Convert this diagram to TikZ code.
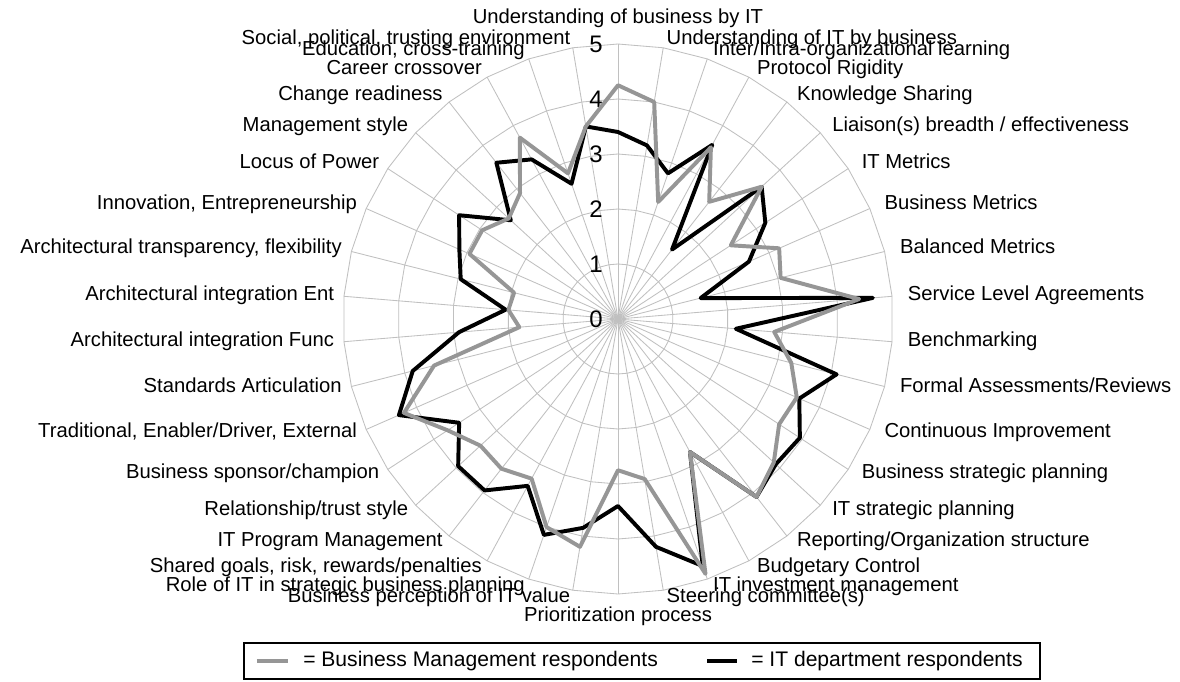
\documentclass[tikz,border=0pt]{standalone}
\usepackage{fontspec}
\setmainfont{Liberation Sans}
\usetikzlibrary{positioning}

\definecolor{gridgray}{RGB}{192,192,192}
\definecolor{bizgray}{RGB}{150,150,150}

\tikzset{
    gridline/.style = {gridgray, line width = 0.6pt},
    bizline/.style = {bizgray, line width = 2.8pt, line join = round},
    itline/.style = {black, line width = 2.8pt, line join = round},
    axislabel/.style = {font = \fontsize{14.4}{16}\selectfont, inner sep = 0.5pt,
        text height = 1.6ex, text depth = 0.4ex},
    ticklabel/.style = {font = \fontsize{17}{19}\selectfont, inner sep = 0pt},
    legendtext/.style = {font = \fontsize{15}{17}\selectfont, inner sep = 0pt, anchor = west}
}

\begin{document}
\begin{tikzpicture}
    \useasboundingbox [fill = white] (-15.45,-9.05) rectangle (14.05,7.975);

    % grid: spokes and rings
    \foreach \k in {0,...,37}
        \draw [gridline] (0,0) -- ({90-\k*360/38}:6.875);
    \foreach \r in {1,...,5}
        \draw [gridline] (90:{\r*1.375})
        \foreach \k in {1,...,37} { -- ({90-\k*360/38}:{\r*1.375}) } -- cycle;

    % scale numbers
    \foreach \n in {0,...,5}
        \node [ticklabel, anchor = east] (tick\n) at (-0.375,{\n*1.375}) {\n};

    % data points
    \foreach \v [count = \k from 0] in {3.4,3.2,2.8,3.6,1.6,3.55,3.2,2.6,1.55,4.65,
        2.15,4.1,3.6,3.95,3.9,4.1,2.75,4.75,4.2,3.4,
        3.85,4.15,3.45,3.95,3.95,3.45,4.35,3.85,2.9,2.05,
        2.95,3.15,3.45,2.65,3.6,3.3,2.6,3.55}
        \coordinate (it\k) at ({90-\k*360/38}:{\v*1.375});
    \foreach \v [count = \k from 0] in {4.25,4.0,2.25,3.55,2.7,3.55,2.45,3.2,3.05,4.4,
        2.85,3.25,3.55,3.5,3.85,4.1,2.75,4.9,2.95,2.75,
        4.2,4.0,3.3,3.45,3.4,3.7,4.25,3.45,1.8,2.0,
        1.95,2.95,2.95,2.7,2.9,3.75,2.8,3.55}
        \coordinate (biz\k) at ({90-\k*360/38}:{\v*1.375});

    \draw [itline] (it0) \foreach \k in {1,...,37} { -- (it\k) } -- cycle;
    \draw [bizline] (biz0) \foreach \k in {1,...,37} { -- (biz\k) } -- cycle;

    % axis labels
    \foreach \lab [count = \k from 0] in {Understanding of business by IT,
        Understanding of IT by business, Inter/Intra-organizational learning,
        Protocol Rigidity, Knowledge Sharing, Liaison(s) breadth / effectiveness,
        IT Metrics, Business Metrics, Balanced Metrics, Service Level Agreements,
        Benchmarking, Formal Assessments/Reviews, Continuous Improvement,
        Business strategic planning, IT strategic planning,
        Reporting/Organization structure, Budgetary Control,
        IT investment management, Steering committee(s), Prioritization process,
        Business perception of IT value, Role of IT in strategic business planning,
        {Shared goals, risk, rewards/penalties}, IT Program Management,
        Relationship/trust style, Business sponsor/champion,
        {Traditional, Enabler/Driver, External}, Standards Articulation,
        Architectural integration Func, Architectural integration Ent,
        {Architectural transparency, flexibility}, {Innovation, Entrepreneurship},
        Locus of Power, Management style, Change readiness, Career crossover,
        {Education, cross-training}, {Social, political, trusting environment}}
    {
        \pgfmathsetmacro{\ang}{\k*360/38}
        \ifnum\k=0
            \node [axislabel, anchor = south] (lab\k) at (0,7.3) {\lab};
        \else\ifnum\k=19
            \node [axislabel, anchor = north] (lab\k) at (0,-7.25) {\lab};
        \else\ifnum\k<19
            \node [axislabel, anchor = west] (lab\k) at ({7.25*sin(\ang)},{7.075*cos(\ang)}) {\lab};
        \else
            \node [axislabel, anchor = east] (lab\k) at ({7.1*sin(\ang)},{7.075*cos(\ang)}) {\lab};
        \fi\fi\fi
    }

    % legend
    \draw [line width = 1pt] (-9.35,-8.1) rectangle (10.55,-9.0);
    \coordinate (bizstart) at (-9.025,-8.55);
    \coordinate (bizend) at (-8.25,-8.55);
    \draw [bizline] (bizstart) -- (bizend);
    \node [legendtext, right = 0.375 of bizend] (bizkey) {= Business Management respondents};
    \coordinate (itstart) at (2.225,-8.55);
    \coordinate (itend) at (2.975,-8.55);
    \draw [itline] (itstart) -- (itend);
    \node [legendtext, right = 0.35 of itend] (itkey) {= IT department respondents};
\end{tikzpicture}
\end{document}
